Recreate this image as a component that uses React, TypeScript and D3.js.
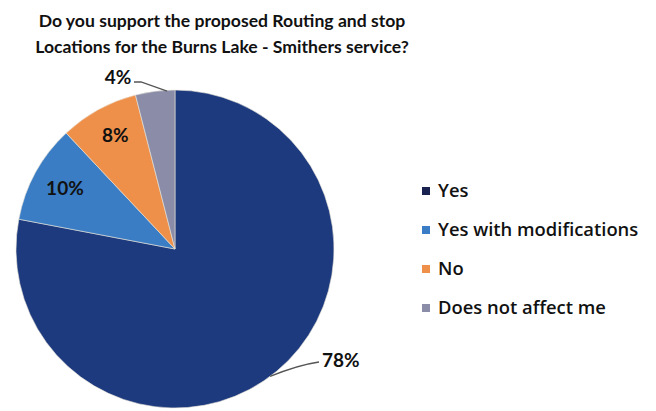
import React from "react";
import * as d3 from "d3";

const categories = ["Yes", "Yes with modifications", "No", "Does not affect me"];
const values = [78, 10, 8, 4];
const labels = ["78%", "10%", "8%", "4%"];
const colors = ["#1e3a7e", "#3b7dc4", "#ef904a", "#8a8ca8"];
const legendColors = ["#1a2350", "#3b7dc4", "#ef904a", "#8a8ca8"];
const titleLines = [
  "Do you support the proposed Routing and stop",
  "Locations for the Burns Lake - Smithers service?",
];

const W = 656;
const H = 411;
const cx = 175;
const cy = 249;
const R = 159;
const FONT = "Lato, 'Open Sans', sans-serif";

export default function App() {
  const pie = d3.pie<number>().sort(null).value((d) => d);
  const arcs = pie(values);
  const arc = d3.arc<d3.PieArcDatum<number>>().innerRadius(0).outerRadius(R);

  const pt = (a: number, r: number) => [cx + r * Math.sin(a), cy - r * Math.cos(a)];
  const mid = arcs.map((a) => (a.startAngle + a.endAngle) / 2);

  const a78 = mid[0];
  const [e78x, e78y] = pt(a78 + 0.05, R);
  const l78 = { x: 322, y: 367 };
  const a4 = arcs[3].startAngle + (arcs[3].endAngle - arcs[3].startAngle) * 0.8;
  const [e4x, e4y] = pt(a4, R - 1);

  const [p10x, p10y] = pt(mid[1], 0.79 * R);
  const [p8x, p8y] = pt(mid[2] + 0.02, 0.81 * R);

  return (
    <svg width={W} height={H} style={{ position: "absolute", left: 0, top: 0, background: "#fff" }}>
      <rect width={W} height={H} fill="#fff" />
      <g fontFamily={FONT} fontWeight="bold" fill="#111">
        {titleLines.map((t, i) => (
          <text key={i} x={222} y={27 + i * 25.5} textAnchor="middle" fontSize={17.6}>
            {t}
          </text>
        ))}
      </g>
      <g>
        {arcs.map((a, i) => (
          <path
            key={i}
            d={arc(a) || ""}
            transform={`translate(${cx},${cy})`}
            fill={colors[i]}
            stroke="#e8e4d8"
            strokeWidth={0.6}
          />
        ))}
      </g>
      <g fontFamily={FONT} fontWeight="bold" fill="#111" fontSize={19}>
        <text x={p10x} y={p10y + 7} textAnchor="middle">{labels[1]}</text>
        <text x={p8x} y={p8y + 7} textAnchor="middle">{labels[2]}</text>
        <text x={118} y={84} textAnchor="middle">{labels[3]}</text>
        <text x={l78.x} y={l78.y} textAnchor="start">{labels[0]}</text>
      </g>
      <g fill="none" stroke="#555" strokeWidth={1.3}>
        <path d={`M${134},${82} L${141},${82} L${e4x},${e4y}`} />
        <path d={`M${e78x},${e78y} Q${298},${365} ${l78.x - 3},${362}`} />
      </g>
      <g fontFamily="'Open Sans', sans-serif" fontWeight={600} fontSize={18.4} fill="#111">
        {categories.map((c, i) => (
          <g key={c} transform={`translate(422,${191 + i * 39})`}>
            <rect x={0} y={-4} width={8} height={8} fill={legendColors[i]} />
            <text x={16} y={6}>{c}</text>
          </g>
        ))}
      </g>
    </svg>
  );
}
